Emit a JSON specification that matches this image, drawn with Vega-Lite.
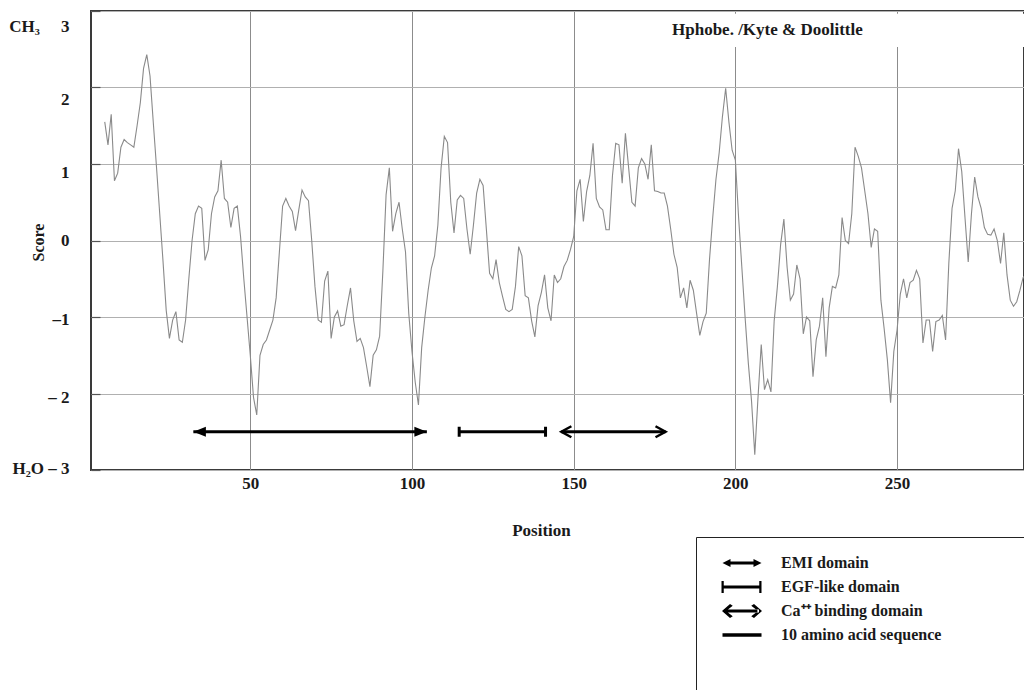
{
  "$schema": "https://vega.github.io/schema/vega-lite/v6.json",
  "autosize": "none",
  "padding": {"left": 91, "top": 11, "right": 0, "bottom": 220},
  "width": 933,
  "height": 459,
  "background": "white",
  "title": {
    "text": "Hphobe. /Kyte & Doolittle",
    "anchor": "start",
    "frame": "group",
    "orient": "top",
    "offset": -42,
    "dx": 581,
    "baseline": "alphabetic",
    "font": "Liberation Serif",
    "fontSize": 17,
    "fontWeight": "bold",
    "color": "#1a1a1a"
  },
  "config": {
    "view": {"stroke": "#3a3a3a", "strokeWidth": 2},
    "font": "Liberation Serif"
  },
  "datasets": {
    "profile": [
      {"position": 5, "score": 1.55}, {"position": 6, "score": 1.25}, {"position": 7, "score": 1.65}, {"position": 8, "score": 0.78},
      {"position": 9, "score": 0.88}, {"position": 10, "score": 1.22}, {"position": 11, "score": 1.32}, {"position": 12, "score": 1.28},
      {"position": 13, "score": 1.25}, {"position": 14, "score": 1.22}, {"position": 15, "score": 1.5}, {"position": 16, "score": 1.8},
      {"position": 17, "score": 2.25}, {"position": 18, "score": 2.43}, {"position": 19, "score": 2.15}, {"position": 20, "score": 1.55},
      {"position": 21, "score": 0.96}, {"position": 22, "score": 0.35}, {"position": 23, "score": -0.26}, {"position": 24, "score": -0.91},
      {"position": 25, "score": -1.28}, {"position": 26, "score": -1.04}, {"position": 27, "score": -0.93}, {"position": 28, "score": -1.3},
      {"position": 29, "score": -1.33}, {"position": 30, "score": -1.04}, {"position": 31, "score": -0.5}, {"position": 32, "score": 0.0},
      {"position": 33, "score": 0.35}, {"position": 34, "score": 0.45}, {"position": 35, "score": 0.42}, {"position": 36, "score": -0.26},
      {"position": 37, "score": -0.12}, {"position": 38, "score": 0.35}, {"position": 39, "score": 0.57}, {"position": 40, "score": 0.65},
      {"position": 41, "score": 1.05}, {"position": 42, "score": 0.55}, {"position": 43, "score": 0.5}, {"position": 44, "score": 0.17},
      {"position": 45, "score": 0.42}, {"position": 46, "score": 0.45}, {"position": 47, "score": 0.05}, {"position": 48, "score": -0.5},
      {"position": 49, "score": -1.0}, {"position": 50, "score": -1.5}, {"position": 51, "score": -2.05}, {"position": 52, "score": -2.28},
      {"position": 53, "score": -1.5}, {"position": 54, "score": -1.36}, {"position": 55, "score": -1.3}, {"position": 56, "score": -1.17},
      {"position": 57, "score": -1.04}, {"position": 58, "score": -0.75}, {"position": 59, "score": -0.15}, {"position": 60, "score": 0.45},
      {"position": 61, "score": 0.55}, {"position": 62, "score": 0.45}, {"position": 63, "score": 0.38}, {"position": 64, "score": 0.13},
      {"position": 65, "score": 0.4}, {"position": 66, "score": 0.66}, {"position": 67, "score": 0.57}, {"position": 68, "score": 0.52},
      {"position": 69, "score": 0.0}, {"position": 70, "score": -0.6}, {"position": 71, "score": -1.04}, {"position": 72, "score": -1.07},
      {"position": 73, "score": -0.53}, {"position": 74, "score": -0.4}, {"position": 75, "score": -1.28}, {"position": 76, "score": -1.0},
      {"position": 77, "score": -0.92}, {"position": 78, "score": -1.12}, {"position": 79, "score": -1.1}, {"position": 80, "score": -0.85},
      {"position": 81, "score": -0.62}, {"position": 82, "score": -1.05}, {"position": 83, "score": -1.32}, {"position": 84, "score": -1.28},
      {"position": 85, "score": -1.4}, {"position": 86, "score": -1.65}, {"position": 87, "score": -1.91}, {"position": 88, "score": -1.5},
      {"position": 89, "score": -1.43}, {"position": 90, "score": -1.25}, {"position": 91, "score": -0.4}, {"position": 92, "score": 0.6},
      {"position": 93, "score": 0.95}, {"position": 94, "score": 0.12}, {"position": 95, "score": 0.35}, {"position": 96, "score": 0.5},
      {"position": 97, "score": 0.15}, {"position": 98, "score": -0.15}, {"position": 99, "score": -0.95}, {"position": 100, "score": -1.45},
      {"position": 101, "score": -1.85}, {"position": 102, "score": -2.15}, {"position": 103, "score": -1.4}, {"position": 104, "score": -1.0},
      {"position": 105, "score": -0.65}, {"position": 106, "score": -0.36}, {"position": 107, "score": -0.2}, {"position": 108, "score": 0.2},
      {"position": 109, "score": 0.95}, {"position": 110, "score": 1.36}, {"position": 111, "score": 1.28}, {"position": 112, "score": 0.5},
      {"position": 113, "score": 0.1}, {"position": 114, "score": 0.53}, {"position": 115, "score": 0.59}, {"position": 116, "score": 0.55},
      {"position": 117, "score": 0.15}, {"position": 118, "score": -0.18}, {"position": 119, "score": 0.2}, {"position": 120, "score": 0.62},
      {"position": 121, "score": 0.8}, {"position": 122, "score": 0.72}, {"position": 123, "score": 0.15}, {"position": 124, "score": -0.43},
      {"position": 125, "score": -0.5}, {"position": 126, "score": -0.25}, {"position": 127, "score": -0.55}, {"position": 128, "score": -0.73},
      {"position": 129, "score": -0.9}, {"position": 130, "score": -0.93}, {"position": 131, "score": -0.9}, {"position": 132, "score": -0.6},
      {"position": 133, "score": -0.08}, {"position": 134, "score": -0.2}, {"position": 135, "score": -0.72}, {"position": 136, "score": -0.75},
      {"position": 137, "score": -1.05}, {"position": 138, "score": -1.26}, {"position": 139, "score": -0.85}, {"position": 140, "score": -0.68},
      {"position": 141, "score": -0.45}, {"position": 142, "score": -0.88}, {"position": 143, "score": -1.05}, {"position": 144, "score": -0.45},
      {"position": 145, "score": -0.55}, {"position": 146, "score": -0.5}, {"position": 147, "score": -0.34}, {"position": 148, "score": -0.26},
      {"position": 149, "score": -0.12}, {"position": 150, "score": 0.05}, {"position": 151, "score": 0.65}, {"position": 152, "score": 0.8},
      {"position": 153, "score": 0.25}, {"position": 154, "score": 0.64}, {"position": 155, "score": 0.85}, {"position": 156, "score": 1.27},
      {"position": 157, "score": 0.55}, {"position": 158, "score": 0.44}, {"position": 159, "score": 0.4}, {"position": 160, "score": 0.14},
      {"position": 161, "score": 0.14}, {"position": 162, "score": 0.85}, {"position": 163, "score": 1.27}, {"position": 164, "score": 1.25},
      {"position": 165, "score": 0.75}, {"position": 166, "score": 1.4}, {"position": 167, "score": 0.95}, {"position": 168, "score": 0.5},
      {"position": 169, "score": 0.45}, {"position": 170, "score": 0.95}, {"position": 171, "score": 1.07}, {"position": 172, "score": 1.0},
      {"position": 173, "score": 0.8}, {"position": 174, "score": 1.25}, {"position": 175, "score": 0.65}, {"position": 176, "score": 0.64},
      {"position": 177, "score": 0.62}, {"position": 178, "score": 0.62}, {"position": 179, "score": 0.45}, {"position": 180, "score": 0.15},
      {"position": 181, "score": -0.18}, {"position": 182, "score": -0.35}, {"position": 183, "score": -0.75}, {"position": 184, "score": -0.62},
      {"position": 185, "score": -0.88}, {"position": 186, "score": -0.52}, {"position": 187, "score": -0.65}, {"position": 188, "score": -0.95},
      {"position": 189, "score": -1.24}, {"position": 190, "score": -1.06}, {"position": 191, "score": -0.95}, {"position": 192, "score": -0.25},
      {"position": 193, "score": 0.3}, {"position": 194, "score": 0.8}, {"position": 195, "score": 1.15}, {"position": 196, "score": 1.62},
      {"position": 197, "score": 1.99}, {"position": 198, "score": 1.55}, {"position": 199, "score": 1.18}, {"position": 200, "score": 1.05},
      {"position": 201, "score": 0.3}, {"position": 202, "score": -0.35}, {"position": 203, "score": -1.0}, {"position": 204, "score": -1.6},
      {"position": 205, "score": -2.1}, {"position": 206, "score": -2.8}, {"position": 207, "score": -2.05}, {"position": 208, "score": -1.36},
      {"position": 209, "score": -1.95}, {"position": 210, "score": -1.82}, {"position": 211, "score": -1.98}, {"position": 212, "score": -1.05},
      {"position": 213, "score": -0.6}, {"position": 214, "score": -0.05}, {"position": 215, "score": 0.28}, {"position": 216, "score": -0.35},
      {"position": 217, "score": -0.78}, {"position": 218, "score": -0.7}, {"position": 219, "score": -0.32}, {"position": 220, "score": -0.5},
      {"position": 221, "score": -1.22}, {"position": 222, "score": -1.0}, {"position": 223, "score": -1.05}, {"position": 224, "score": -1.78},
      {"position": 225, "score": -1.3}, {"position": 226, "score": -1.12}, {"position": 227, "score": -0.75}, {"position": 228, "score": -1.52},
      {"position": 229, "score": -0.88}, {"position": 230, "score": -0.6}, {"position": 231, "score": -0.62}, {"position": 232, "score": -0.45},
      {"position": 233, "score": 0.3}, {"position": 234, "score": 0.0}, {"position": 235, "score": -0.04}, {"position": 236, "score": 0.35},
      {"position": 237, "score": 1.22}, {"position": 238, "score": 1.1}, {"position": 239, "score": 0.95}, {"position": 240, "score": 0.65},
      {"position": 241, "score": 0.35}, {"position": 242, "score": -0.09}, {"position": 243, "score": 0.15}, {"position": 244, "score": 0.12},
      {"position": 245, "score": -0.78}, {"position": 246, "score": -1.15}, {"position": 247, "score": -1.56}, {"position": 248, "score": -2.12},
      {"position": 249, "score": -1.45}, {"position": 250, "score": -1.17}, {"position": 251, "score": -0.7}, {"position": 252, "score": -0.5},
      {"position": 253, "score": -0.75}, {"position": 254, "score": -0.55}, {"position": 255, "score": -0.52}, {"position": 256, "score": -0.39},
      {"position": 257, "score": -0.5}, {"position": 258, "score": -1.34}, {"position": 259, "score": -1.04}, {"position": 260, "score": -1.04},
      {"position": 261, "score": -1.45}, {"position": 262, "score": -1.06}, {"position": 263, "score": -1.04}, {"position": 264, "score": -0.98},
      {"position": 265, "score": -1.3}, {"position": 266, "score": -0.3}, {"position": 267, "score": 0.42}, {"position": 268, "score": 0.65},
      {"position": 269, "score": 1.2}, {"position": 270, "score": 0.9}, {"position": 271, "score": 0.3}, {"position": 272, "score": -0.28},
      {"position": 273, "score": 0.35}, {"position": 274, "score": 0.83}, {"position": 275, "score": 0.57}, {"position": 276, "score": 0.42},
      {"position": 277, "score": 0.17}, {"position": 278, "score": 0.08}, {"position": 279, "score": 0.07}, {"position": 280, "score": 0.15},
      {"position": 281, "score": 0.0}, {"position": 282, "score": -0.3}, {"position": 283, "score": 0.1}, {"position": 284, "score": -0.45},
      {"position": 285, "score": -0.78}, {"position": 286, "score": -0.86}, {"position": 287, "score": -0.8}, {"position": 288, "score": -0.65},
      {"position": 289, "score": -0.48}, {"position": 290, "score": -0.45}, {"position": 291, "score": -0.5}
    ],
    "domains": [
      {"name": "EMI domain", "start": 32.4, "end": 104.6},
      {"name": "EGF-like domain", "start": 114.6, "end": 141.3},
      {"name": "Ca\u207a\u207a binding domain", "start": 146.2, "end": 178.4}
    ],
    "legendItems": [
      {"item": "EMI domain"},
      {"item": "EGF-like domain"},
      {"item": "Ca\u207a\u207a binding domain"},
      {"item": "10 amino acid sequence"}
    ]
  },
  "layer": [
    {
      "data": {"name": "profile"},
      "mark": {"type": "line", "color": "#8a8a8a", "strokeWidth": 1.1, "clip": true},
      "encoding": {
        "x": {
          "field": "position", "type": "quantitative",
          "scale": {"domain": [0.75, 289.25], "nice": false, "zero": false},
          "axis": {
            "title": "Position",
            "values": [50, 100, 150, 200, 250],
            "grid": true, "gridColor": "#8c8c8c", "gridWidth": 1,
            "domain": false, "ticks": false,
            "labelFont": "Liberation Serif", "labelFontSize": 17, "labelFontWeight": "bold", "labelColor": "#1a1a1a",
            "labelPadding": 5,
            "titleFont": "Liberation Serif", "titleFontSize": 17, "titleFontWeight": "bold", "titleColor": "#1a1a1a",
            "titleX": 450, "titleY": 65, "titleBaseline": "alphabetic", "titleAlign": "center"
          }
        },
        "y": {
          "field": "score", "type": "quantitative",
          "scale": {"domain": [-3, 3], "nice": false, "zero": false},
          "axis": {
            "title": "Score",
            "values": [-3, -2, -1, 0, 1, 2, 3],
            "format": "d",
            "grid": true, "gridColor": "#b0b0b0", "gridWidth": 1.2,
            "domain": false, "ticks": true, "tickSize": -9, "tickColor": "#555555", "tickWidth": 1.2,
            "labelExpr": "datum.value == 3 ? 'CH\u2083\u2003 3' : datum.value == -3 ? 'H\u2082O \u2013 3' : datum.value == -2 ? '\u2013 2' : datum.value == -1 ? '\u20131' : datum.label",
            "labelFont": "Liberation Serif", "labelFontSize": 17, "labelFontWeight": "bold", "labelColor": "#1a1a1a",
            "labelPadding": 31, "labelAlign": "right", "labelBaseline": "middle",
            "labelOffset": {"condition": [
              {"test": "datum.value == 3", "value": 15},
              {"test": "datum.value == 2", "value": 12},
              {"test": "datum.value == 1", "value": 8},
              {"test": "datum.value == -1", "value": 2},
              {"test": "datum.value == -2", "value": 4},
              {"test": "datum.value == -3", "value": -2}
            ], "value": 0},
            "titleFont": "Liberation Serif", "titleFontSize": 16, "titleFontWeight": "bold", "titleColor": "#1a1a1a",
            "titleX": -53, "titleY": 231, "titleAngle": -90, "titleBaseline": "middle", "titleAlign": "center"
          }
        }
      }
    },
    {
      "data": {"values": [{}]},
      "mark": {"type": "rect", "fill": "white"},
      "encoding": {
        "x": {"datum": 176, "type": "quantitative", "title": "Position"},
        "x2": {"datum": 289.25},
        "y": {"datum": 2.53, "type": "quantitative", "title": "Score"},
        "y2": {"datum": 2.965}
      }
    },
    {
      "data": {"name": "domains"},
      "mark": {"type": "rule", "color": "black", "strokeWidth": 3},
      "encoding": {
        "x": {"field": "start", "type": "quantitative", "title": "Position"},
        "x2": {"field": "end"},
        "y": {"datum": -2.5, "type": "quantitative", "title": "Score"}
      }
    },
    {
      "data": {"name": "domains"},
      "transform": [{"filter": "datum.name == 'EMI domain'"}],
      "mark": {"type": "point", "shape": "M0,0L2.5,-1L2.5,1Z", "size": 100, "filled": true, "color": "black", "opacity": 1},
      "encoding": {
        "x": {"field": "start", "type": "quantitative", "title": "Position"},
        "y": {"datum": -2.5, "type": "quantitative", "title": "Score"}
      }
    },
    {
      "data": {"name": "domains"},
      "transform": [{"filter": "datum.name == 'EMI domain'"}],
      "mark": {"type": "point", "shape": "M0,0L-2.5,-1L-2.5,1Z", "size": 100, "filled": true, "color": "black", "opacity": 1},
      "encoding": {
        "x": {"field": "end", "type": "quantitative", "title": "Position"},
        "y": {"datum": -2.5, "type": "quantitative", "title": "Score"}
      }
    },
    {
      "data": {"name": "domains"},
      "transform": [
        {"filter": "datum.name == 'EGF-like domain'"},
        {"fold": ["start", "end"], "as": ["side", "pos"]}
      ],
      "mark": {"type": "point", "shape": "M0,-1L0,1", "size": 100, "filled": false, "color": "black", "strokeWidth": 3, "opacity": 1},
      "encoding": {
        "x": {"field": "pos", "type": "quantitative", "title": "Position"},
        "y": {"datum": -2.5, "type": "quantitative", "title": "Score"}
      }
    },
    {
      "data": {"name": "domains"},
      "transform": [{"filter": "indexof(datum.name, 'binding') >= 0"}],
      "mark": {"type": "point", "shape": "M2,-1.1L0,0L2,1.1", "size": 100, "filled": false, "color": "black", "strokeWidth": 2.5, "opacity": 1},
      "encoding": {
        "x": {"field": "start", "type": "quantitative", "title": "Position"},
        "y": {"datum": -2.5, "type": "quantitative", "title": "Score"}
      }
    },
    {
      "data": {"name": "domains"},
      "transform": [{"filter": "indexof(datum.name, 'binding') >= 0"}],
      "mark": {"type": "point", "shape": "M-2,-1.1L0,0L-2,1.1", "size": 100, "filled": false, "color": "black", "strokeWidth": 2.5, "opacity": 1},
      "encoding": {
        "x": {"field": "end", "type": "quantitative", "title": "Position"},
        "y": {"datum": -2.5, "type": "quantitative", "title": "Score"}
      }
    },
    {
      "data": {"name": "legendItems"},
      "mark": {"type": "point", "opacity": 0, "filled": true, "color": "black", "size": 100},
      "encoding": {
        "x": {"datum": 150, "type": "quantitative", "title": "Position"},
        "y": {"datum": 0, "type": "quantitative", "title": "Score"},
        "shape": {
          "field": "item", "type": "nominal",
          "scale": {
            "domain": ["EMI domain", "EGF-like domain", "Ca\u207a\u207a binding domain", "10 amino acid sequence"],
            "range": [
              "M0.7,0L2.3,-0.8L2.3,0.8Z M2.3,-0.3L6.9,-0.3L6.9,0.3L2.3,0.3Z M8.5,0L6.9,-0.8L6.9,0.8Z",
              "M0.5,-1.2L0.95,-1.2L0.95,1.2L0.5,1.2Z M0.95,-0.28L8.05,-0.28L8.05,0.28L0.95,0.28Z M8.05,-1.2L8.5,-1.2L8.5,1.2L8.05,1.2Z",
              "M0.6,0L2.2,-1.4L2.75,-1.05L1.4,0L2.75,1.05L2.2,1.4Z M1.2,-0.3L8.0,-0.3L8.0,0.3L1.2,0.3Z M8.6,0L7.0,-1.4L6.45,-1.05L7.8,0L6.45,1.05L7.0,1.4Z",
              "M0.7,-0.34L8.5,-0.34L8.5,0.34L0.7,0.34Z"
            ]
          },
          "legend": {
            "orient": "none", "legendX": 605, "legendY": 526,
            "direction": "vertical",
            "title": "\u2800\u2800\u2800\u2800\u2800\u2800\u2800\u2800\u2800\u2800\u2800\u2800\u2800\u2800\u2800\u2800\u2800\u2800\u2800\u2800\u2800\u2800\u2800\u2800\u2800\u2800\u2800\u2800\u2800\u2800\u2800\u2800\u2800\u2800\u2800\u2800\u2800\u2800\u2800\u2800\u2800\u2800\u2800\u2800\u2800\u2800\u2800\u2800\u2800\u2800\u2800\u2800\u2800\u2800\u2800\u2800\u2800\u2800\u2800\u2800\u2800\u2800\u2800\u2800\u2800\u2800\u2800\u2800\u2800\u2800\u2800\u2800\u2800\u2800\u2800\u2800\u2800\u2800\u2800\u2800",
            "titleOrient": "bottom", "titleFontSize": 10, "titlePadding": 32, "titleFont": "Liberation Serif", "titleLimit": 308, "titleColor": "white",
            "strokeColor": "#222", "padding": 15,
            "symbolSize": 100, "symbolStrokeWidth": 0.4, "symbolStrokeColor": "black", "symbolFillColor": "black", "symbolOpacity": 1,
            "labelFont": "Liberation Serif", "labelFontSize": 16, "labelFontWeight": "bold", "labelColor": "#1a1a1a",
            "labelOffset": 54, "labelLimit": 3000,
            "clipHeight": 22, "rowPadding": 2,
            "encode": {
              "legend": {"update": {"strokeWidth": {"value": 2}}}
            }
          }
        }
      }
    }
  ]
}
